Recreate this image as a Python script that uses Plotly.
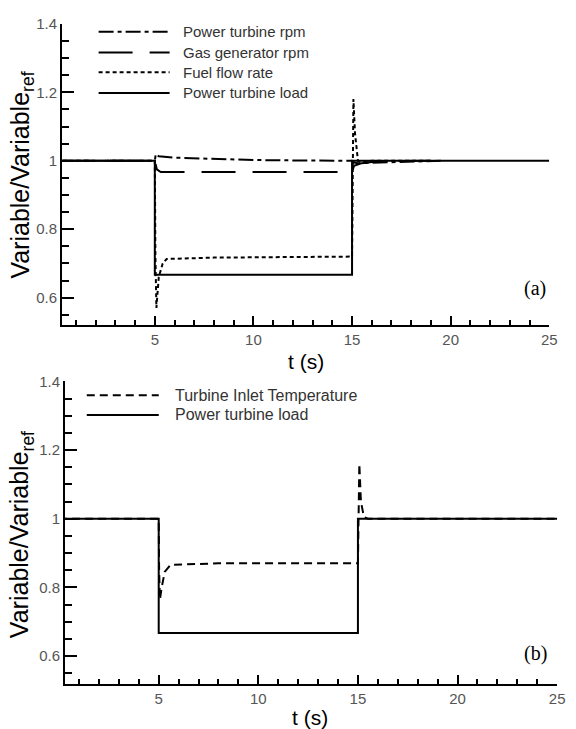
import plotly.graph_objects as go

# ---------------- data ----------------
# Panel (a)
load_a_t = [0, 5, 5, 15, 15, 25]
load_a_v = [1.0, 1.0, 0.667, 0.667, 1.0, 1.0]

rpm_t = [0, 5, 5.05, 5.2, 6, 8, 10, 12, 15, 15.1, 15.3, 16, 17, 18, 19.5]
rpm_v = [1.0, 1.0, 1.02, 1.013, 1.009, 1.005, 1.002, 1.001, 1.0, 0.995, 0.993, 0.994, 0.996, 0.998, 1.0]

gg_t = [0, 5, 5.1, 5.3, 15, 15.1, 15.5, 16, 17, 19]
gg_v = [1.0, 1.0, 0.975, 0.967, 0.967, 0.985, 0.993, 0.996, 0.999, 1.0]

ff_t = [0, 5, 5.03, 5.08, 5.2, 5.4, 5.6, 8, 15, 15.02, 15.07, 15.15, 15.3, 15.5, 16, 19]
ff_v = [1.0, 1.0, 0.72, 0.57, 0.66, 0.70, 0.713, 0.717, 0.72, 1.0, 1.18, 1.08, 1.0, 0.997, 1.0, 1.0]

# Panel (b)
load_b_t = [0, 5, 5, 15, 15, 25]
load_b_v = [1.0, 1.0, 0.667, 0.667, 1.0, 1.0]

tit_t = [0, 5, 5.02, 5.06, 5.15, 5.3, 5.6, 8, 15, 15.02, 15.07, 15.15, 15.3, 15.5, 25]
tit_v = [1.0, 1.0, 0.85, 0.765, 0.80, 0.845, 0.866, 0.87, 0.87, 1.0, 1.16, 1.05, 1.005, 1.0, 1.0]

x_ticks = [5, 10, 15, 20, 25]
y_ticks = [0.6, 0.8, 1.0, 1.2, 1.4]
y_tick_text = ["0.6", "0.8", "1", "1.2", "1.4"]

legend_a = ["Power turbine rpm", "Gas generator rpm", "Fuel flow rate", "Power turbine load"]
legend_b = ["Turbine Inlet Temperature", "Power turbine load"]

# ---------------- styles ----------------
W, H = 576, 729
DOT_DASH = "15px,4px,4px,4px"
LONG_DASH = "34px,17px"
DOTTED = "4px,3px"
DASHED = "8px,5px"
TICK_FONT = dict(family="Liberation Sans, Arial", size=15, color="#555555")
LEG_FONT_A = dict(family="Liberation Sans, Arial", size=15, color="#333333")
LEG_FONT_B = dict(family="Liberation Sans, Arial", size=16, color="#333333")

fig = go.Figure()

def add(t, v, dash, xa, ya, width=2):
    fig.add_trace(go.Scatter(x=t, y=v, mode="lines", xaxis=xa, yaxis=ya,
                             line=dict(color="black", width=width, dash=dash),
                             showlegend=False, hoverinfo="skip"))

add(rpm_t, rpm_v, DOT_DASH, "x", "y")
add(gg_t, gg_v, LONG_DASH, "x", "y")
add(ff_t, ff_v, DOTTED, "x", "y")
add(load_a_t, load_a_v, "solid", "x", "y")

add(tit_t, tit_v, DASHED, "x2", "y2")
add(load_b_t, load_b_v, "solid", "x2", "y2")

def px(x):
    return x / W

def py(y):
    return 1 - y / H

axis_common = dict(showgrid=False, zeroline=False, showline=True, linecolor="black",
                   linewidth=2, ticks="inside", tickcolor="black", tickwidth=2,
                   tickfont=TICK_FONT, mirror=False)

xdom_a = [px(63), px(557)]
ydom_a = [py(320), py(15)]
xdom_b = [px(66), px(565)]
ydom_b = [py(683), py(377)]

fig.update_layout(
    width=W, height=H, margin=dict(l=0, r=0, t=0, b=0),
    paper_bgcolor="white", plot_bgcolor="white",
    xaxis=dict(domain=xdom_a, range=[0.3, 25], anchor="y", tickvals=x_ticks, ticklen=9,
               minor=dict(dtick=1, tick0=0, ticks="inside", ticklen=5, tickwidth=1.5, tickcolor="black"),
               **axis_common),
    yaxis=dict(domain=ydom_a, range=[0.52, 1.4], anchor="x", tickvals=y_ticks, ticktext=y_tick_text,
               ticklen=12,
               minor=dict(dtick=0.05, tick0=0, ticks="inside", ticklen=7, tickwidth=1.5, tickcolor="black"),
               **axis_common),
    xaxis2=dict(domain=xdom_b, range=[0.3, 25], anchor="y2", tickvals=x_ticks, ticklen=9,
                minor=dict(dtick=1, tick0=0, ticks="inside", ticklen=5, tickwidth=1.5, tickcolor="black"),
                **axis_common),
    yaxis2=dict(domain=ydom_b, range=[0.52, 1.4], anchor="x2", tickvals=y_ticks, ticktext=y_tick_text,
                ticklen=12,
                minor=dict(dtick=0.05, tick0=0, ticks="inside", ticklen=7, tickwidth=1.5, tickcolor="black"),
                **axis_common),
)

shapes = []
annotations = []

# legends (a)
leg_a_dash = [DOT_DASH, LONG_DASH, DOTTED, "solid"]
leg_a_y = [23, 44, 64, 85]
for name, dash, yy in zip(legend_a, leg_a_dash, leg_a_y):
    shapes.append(dict(type="line", xref="paper", yref="paper", x0=px(100), x1=px(172),
                       y0=py(yy), y1=py(yy), line=dict(color="black", width=2, dash=dash)))
    annotations.append(dict(text=name, xref="paper", yref="paper", x=px(184), y=py(yy),
                            xanchor="left", yanchor="middle", showarrow=False, font=LEG_FONT_A))

# legends (b)
leg_b_dash = [DASHED, "solid"]
leg_b_y = [391, 411]
for name, dash, yy in zip(legend_b, leg_b_dash, leg_b_y):
    shapes.append(dict(type="line", xref="paper", yref="paper", x0=px(88), x1=px(161),
                       y0=py(yy), y1=py(yy), line=dict(color="black", width=2, dash=dash)))
    annotations.append(dict(text=name, xref="paper", yref="paper", x=px(175), y=py(yy),
                            xanchor="left", yanchor="middle", showarrow=False, font=LEG_FONT_B))

TITLE_FONT = dict(family="Liberation Sans, Arial", size=25, color="black")
XT_FONT = dict(family="Liberation Sans, Arial", size=21, color="black")
SERIF = dict(family="Liberation Serif, Times New Roman", size=20, color="black")

annotations += [
    dict(text="Variable/Variable<sub>ref</sub>", xref="paper", yref="paper",
         x=px(22), y=py(168), textangle=-90, showarrow=False, font=TITLE_FONT,
         xanchor="center", yanchor="middle"),
    dict(text="Variable/Variable<sub>ref</sub>", xref="paper", yref="paper",
         x=px(22), y=py(532), textangle=-90, showarrow=False, font=TITLE_FONT,
         xanchor="center", yanchor="middle"),
    dict(text="t (s)", xref="paper", yref="paper", x=px(310), y=py(357),
         showarrow=False, font=XT_FONT, xanchor="center", yanchor="middle"),
    dict(text="t (s)", xref="paper", yref="paper", x=px(314), y=py(717),
         showarrow=False, font=XT_FONT, xanchor="center", yanchor="middle"),
    dict(text="(a)", xref="paper", yref="paper", x=px(543), y=py(283),
         showarrow=False, font=SERIF, xanchor="center", yanchor="middle"),
    dict(text="(b)", xref="paper", yref="paper", x=px(543), y=py(653),
         showarrow=False, font=SERIF, xanchor="center", yanchor="middle"),
]

fig.update_layout(shapes=shapes, annotations=annotations)
fig.write_html("out.html")
